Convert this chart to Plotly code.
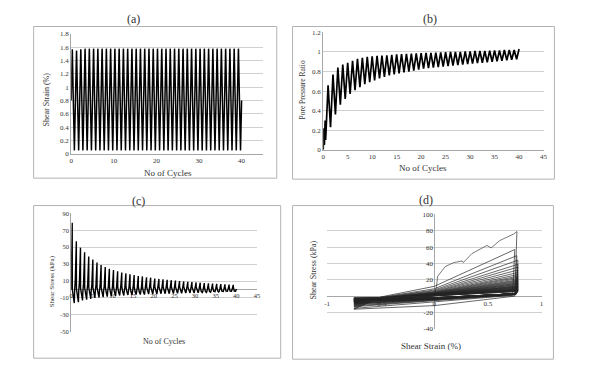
import plotly.graph_objects as go

W, H = 594, 371

# ---------------- data ----------------
# (a) shear strain (%) : peak / trough of each of the 40 cycles
strain_peak = [1.57, 1.55, 1.57, 1.58, 1.58, 1.58, 1.58, 1.58, 1.58, 1.58,
               1.58, 1.58, 1.58, 1.58, 1.58, 1.58, 1.58, 1.58, 1.58, 1.58,
               1.58, 1.58, 1.58, 1.58, 1.58, 1.58, 1.58, 1.58, 1.58, 1.58,
               1.58, 1.58, 1.58, 1.58, 1.58, 1.58, 1.58, 1.58, 1.58, 1.58]
strain_trough = [0.05, 0.05, 0.05, 0.05, 0.05, 0.05, 0.05, 0.05, 0.05, 0.05,
                 0.05, 0.05, 0.05, 0.05, 0.05, 0.05, 0.05, 0.05, 0.05, 0.05,
                 0.05, 0.05, 0.05, 0.05, 0.05, 0.05, 0.05, 0.05, 0.05, 0.05,
                 0.05, 0.05, 0.05, 0.05, 0.05, 0.05, 0.05, 0.05, 0.05, 0.05]
strain_datum = 0.8      # strain reading at zero shear strain (start / end of record)
strain_knee = 0.3       # strain reading at the reloading knee
strain_unload_step = 0.02

# (b) pore pressure ratio
pp_start_cycle = [0.0, 0.15, 0.25, 0.4]
pp_start = [0.0, 0.22, 0.05, 0.30]
pp_trough = [0.10, 0.23, 0.36, 0.46, 0.52, 0.57, 0.61, 0.64, 0.67, 0.69,
             0.71, 0.73, 0.745, 0.76, 0.77, 0.78, 0.79, 0.80, 0.81, 0.82,
             0.83, 0.835, 0.84, 0.845, 0.85, 0.855, 0.86, 0.865, 0.87, 0.875,
             0.88, 0.885, 0.89, 0.895, 0.90, 0.905, 0.91, 0.915, 0.92, 0.925]
pp_peak = [0.66, 0.77, 0.84, 0.87, 0.89, 0.91, 0.93, 0.94, 0.95, 0.955,
           0.96, 0.962, 0.965, 0.97, 0.975, 0.978, 0.98, 0.982, 0.985, 0.987,
           0.99, 0.99, 0.992, 0.995, 0.997, 1.0, 1.0, 1.0, 1.005, 1.005,
           1.01, 1.01, 1.01, 1.012, 1.015, 1.015, 1.02, 1.02, 1.02, 1.03]

# (c) shear stress (kPa) per cycle
stress_zero_load = [0, 12, 9, 7.5, 6.5, 5.5, 5, 4.5, 4, 3.8,
                    3.5, 3.2, 3, 2.8, 2.6, 2.4, 2.2, 2, 1.9, 1.8,
                    1.7, 1.6, 1.5, 1.4, 1.3, 1.2, 1.1, 1, 1, 0.9,
                    0.9, 0.8, 0.8, 0.7, 0.7, 0.6, 0.6, 0.5, 0.5, 0.5]
stress_peak = [79, 57, 49.5, 44, 39, 35.5, 32, 29, 26.5, 24.5,
               23, 21.5, 20, 19, 18, 17, 16, 15.5, 14.5, 14,
               13, 12.5, 12, 11.5, 11, 10.5, 10, 9.5, 9, 8.7,
               8.3, 8, 7.6, 7.3, 7, 6.7, 6.4, 6.1, 5.8, 5.5]
stress_post = [0, 1, 1.5, 2, 2, 2.5, 2.5, 2.5, 3, 3,
               3, 3, 3, 3, 3, 3, 3, 3, 3, 3,
               3, 3, 3, 3, 3, 3, 3, 3, 3, 3,
               3, 3, 3, 3, 3, 3, 3, 3, 3, 3]
stress_zero_unload = [-11.6, -7, -5.5, -5, -4.5, -4, -4, -3.8, -3.6, -3.5,
                      -3.4, -3.3, -3.2, -3.1, -3, -3, -3, -2.9, -2.9, -2.8,
                      -2.8, -2.7, -2.7, -2.6, -2.6, -2.5, -2.5, -2.4, -2.4, -2.3,
                      -2.3, -2.2, -2.2, -2.1, -2.1, -2, -2, -2, -1.9, -1.9]
stress_trough = [-16, -15, -13, -12, -11, -10, -9.5, -9, -8.5, -8,
                 -7.5, -7, -7, -6.5, -6.5, -6, -6, -6, -5.5, -5.5,
                 -5.5, -5, -5, -5, -4.8, -4.6, -4.4, -4.2, -4, -4,
                 -3.8, -3.6, -3.4, -3.2, -3, -3, -2.8, -2.6, -2.5, -2.3]
stress_knee = [-1, -1.5, -2, -2, -2.5, -2.5, -2.5, -2.8, -2.8, -3,
               -3, -3, -3, -3, -3, -3, -3, -3, -3, -3,
               -3, -3, -3, -3, -3, -3, -3, -3, -3, -3,
               -3, -3, -2.8, -2.6, -2.5, -2.4, -2.3, -2.2, -2.1, -2]
stress_end = 0.5

# (d) first loading path (shear strain %, shear stress kPa)
first_load_strain = [0, 0.02, 0.03, 0.10, 0.18, 0.26, 0.27, 0.35, 0.49, 0.53, 0.61, 0.74, 0.77]
first_load_stress = [0, 12, 24, 36, 41, 43, 41, 52, 62, 59, 68, 76, 79]

# sampling phases inside one loading cycle
phase = [0.0, 0.25, 0.27, 0.5, 0.75, 0.833]

# tick labels
tick_a_x = [0, 10, 20, 30, 40]
tick_a_y = [0, 0.2, 0.4, 0.6, 0.8, 1, 1.2, 1.4, 1.6, 1.8]
tick_b_x = [0, 5, 10, 15, 20, 25, 30, 35, 40, 45]
tick_b_y = [0, 0.2, 0.4, 0.6, 0.8, 1, 1.2]
tick_c_x = [0, 5, 10, 15, 20, 25, 30, 35, 40, 45]
tick_c_y = [-50, -30, -10, 10, 30, 50, 70, 90]
tick_d_x = [-1, -0.5, 0, 0.5, 1]
tick_d_y = [-40, -20, 0, 20, 40, 60, 80, 100]

# ---------------- build records ----------------
t_rec, strain_rec, stress_rec = [], [], []
for i in range(len(stress_peak)):
    s_vals = [strain_datum, strain_peak[i], strain_peak[i] - strain_unload_step,
              strain_datum, strain_trough[i], strain_knee]
    f_vals = [stress_zero_load[i], stress_peak[i], stress_post[i],
              stress_zero_unload[i], stress_trough[i], stress_knee[i]]
    for p, s, f in zip(phase, s_vals, f_vals):
        t_rec.append(i + p)
        strain_rec.append(s)
        stress_rec.append(f)
t_rec.append(len(stress_peak))
strain_rec.append(strain_datum)
stress_rec.append(stress_end)

pp_t = list(pp_start_cycle)
pp_v = list(pp_start)
for i in range(len(pp_peak)):
    pp_t += [i + 0.5, i + 1]
    pp_v += [pp_trough[i], pp_peak[i]]

d_strain = [s - strain_datum for s in strain_rec]

# ---------------- figure ----------------
fig = go.Figure()
fig.add_trace(go.Scatter(x=t_rec, y=strain_rec, mode="lines",
                         line=dict(color="black", width=1.5), xaxis="x", yaxis="y"))
fig.add_trace(go.Scatter(x=pp_t, y=pp_v, mode="lines",
                         line=dict(color="black", width=1.7), xaxis="x2", yaxis="y2"))
fig.add_trace(go.Scatter(x=t_rec, y=stress_rec, mode="lines",
                         line=dict(color="black", width=1.4), xaxis="x3", yaxis="y3"))
fig.add_trace(go.Scatter(x=first_load_strain, y=first_load_stress, mode="lines",
                         line=dict(color="#404040", width=0.7), xaxis="x4", yaxis="y4"))
fig.add_trace(go.Scatter(x=d_strain[1:], y=stress_rec[1:], mode="lines",
                         line=dict(color="#262626", width=0.7), xaxis="x4", yaxis="y4"))


def px2x(px):
    return px / W


def py2y(py):
    return 1 - py / H


FONT = "Liberation Serif"
TXT = "#333333"
GRID = "#d0d0d0"
AXL = "#a6a6a6"
tickf = dict(family=FONT, size=7, color=TXT)


def fmt(v):
    return str(v)


common_x = dict(showgrid=False, zeroline=False, showline=True, linecolor=AXL, linewidth=1,
                tickfont=tickf, layer="below traces", fixedrange=True)
common_y = dict(showgrid=True, gridcolor=GRID, gridwidth=1, zeroline=False, showline=True,
                linecolor=AXL, linewidth=1, tickfont=tickf, layer="below traces", fixedrange=True)

# domains
dax = [px2x(69), px2x(263)]
day = [py2y(153), py2y(30.7)]
dbx = [px2x(324), px2x(547)]
dby = [py2y(149), py2y(29)]
dcx = [px2x(69), px2x(257)]
dcy = [py2y(335), py2y(214)]
ddx = [px2x(328), px2x(545)]
ddy = [py2y(332), py2y(215)]

c_xpos = dcy[0] + (0 - (-50)) / 140 * (dcy[1] - dcy[0])
d_xpos = ddy[0] + (0 - (-40)) / 140 * (ddy[1] - ddy[0])
d_ypos = ddx[0] + 0.5 * (ddx[1] - ddx[0])

fig.update_layout(
    width=W, height=H, margin=dict(l=0, r=0, t=0, b=0),
    paper_bgcolor="white", plot_bgcolor="white", showlegend=False,
    font=dict(family=FONT, color=TXT),
    xaxis=dict(common_x, domain=dax, range=[0, 45], anchor="y",
               tickvals=tick_a_x, ticktext=[fmt(v) for v in tick_a_x], ticks=""),
    yaxis=dict(common_y, domain=day, range=[0, 1.8], anchor="x",
               tickvals=tick_a_y, ticktext=[fmt(v) for v in tick_a_y], ticks=""),
    xaxis2=dict(common_x, domain=dbx, range=[0, 45], anchor="y2",
                tickvals=tick_b_x, ticktext=[fmt(v) for v in tick_b_x], ticks=""),
    yaxis2=dict(common_y, domain=dby, range=[0, 1.2], anchor="x2",
                tickvals=tick_b_y, ticktext=[fmt(v) for v in tick_b_y], ticks=""),
    xaxis3=dict(common_x, domain=dcx, range=[0, 45], anchor="free", position=c_xpos,
                tickvals=tick_c_x, ticktext=[fmt(v) for v in tick_c_x],
                ticks="", tickfont=dict(tickf, size=6.5)),
    yaxis3=dict(common_y, domain=dcy, range=[-50, 90], anchor="x3",
                tickvals=tick_c_y, ticktext=[fmt(v) for v in tick_c_y], ticks="",
                tickfont=dict(tickf, size=6.5)),
    xaxis4=dict(common_x, domain=ddx, range=[-1, 1], anchor="free", position=d_xpos,
                tickvals=tick_d_x, ticktext=[fmt(v) for v in tick_d_x], ticks=""),
    yaxis4=dict(common_y, domain=ddy, range=[-40, 100], anchor="free", position=d_ypos,
                tickvals=tick_d_y, ticktext=[fmt(v) for v in tick_d_y], ticks=""),
)

# chart frames
for (x0, y0, x1, y1) in [(31, 23, 277, 178), (293, 23, 558, 179), (31, 206, 281, 362), (293, 206, 557, 363)]:
    fig.add_shape(type="rect", xref="paper", yref="paper",
                  x0=px2x(x0), x1=px2x(x1), y0=py2y(y1), y1=py2y(y0),
                  line=dict(color="#b3b3b3", width=1), fillcolor="rgba(0,0,0,0)", layer="below")


def note(text, px, py, size, angle=0):
    fig.add_annotation(text=text, x=px2x(px), y=py2y(py), xref="paper", yref="paper",
                       showarrow=False, xanchor="center", yanchor="middle", textangle=angle,
                       font=dict(family=FONT, size=size, color=TXT))


note("(a)", 132, 15, 12)
note("(b)", 432, 15, 12)
note("(c)", 137, 201, 12)
note("(d)", 428, 200, 12)

note("No of Cycles", 167, 173, 9)
note("Shear Strain (%)", 44, 97, 8, -90)
note("No of Cycles", 425, 168, 9)
note("Pore Pressure Ratio", 303, 88, 7.5, -90)
note("No of Cycles", 163, 345, 8)
note("Shear Stress (kPa)", 49, 283, 7, -90)
note("Shear Strain (%)", 433, 350, 9)
note("Shear Stress (kPa)", 314, 272, 8, -90)

fig.write_html("out.html",
               config={"displayModeBar": False},
               post_script="document.body.style.margin='0';document.body.style.padding='0';"
                           "document.body.style.overflow='hidden';")
